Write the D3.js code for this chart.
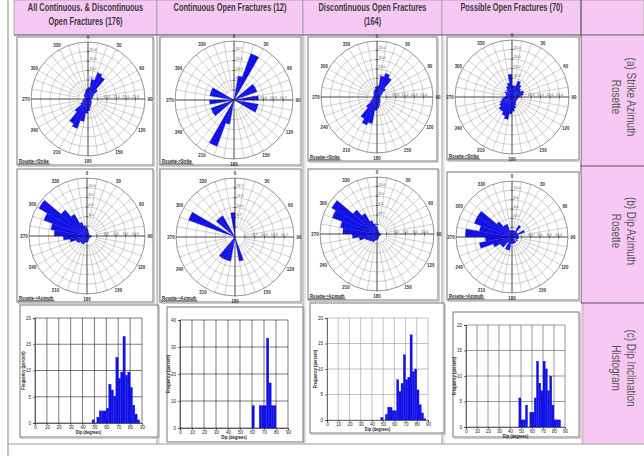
<!DOCTYPE html>
<html><head><meta charset="utf-8">
<script src="https://cdn.jsdelivr.net/npm/d3@7"></script>
<style>
body{margin:0;background:#fff;}
svg{display:block;}
text{font-family:"Liberation Sans",Arial,sans-serif;}
</style></head><body>
<svg id="c" width="644" height="458"></svg>
<script>
// ---------------- DATA ----------------
const columnTitles = [
  ["All Continuous. & Discontinuous", "Open Fractures (176)"],
  ["Continuous Open Fractures (12)"],
  ["Discontinuous Open Fractures", "(164)"],
  ["Possible Open Fractures (70)"]
];
const rowTitles = [
  ["(a) Strike Azimuth", "Rosette"],
  ["(b) Dip Azimuth", "Rosette"],
  ["(c) Dip Inclination", "Histogram"]
];
const azimuthBins = [0,10,20,30,40,50,60,70,80,90,100,110,120,130,140,150,160,170,
                     180,190,200,210,220,230,240,250,260,270,280,290,300,310,320,330,340,350];
const azimuthLabels = [0,30,60,90,120,150,180,210,240,270,300,330];

// strike azimuth rosettes (percent per 10 deg bin)
const strikeAll  = [6,10.5,14.7,13.5,6.6,3.6,3,2.4,2.1,1.5,1.5,1.8,2.4,2.4,3,3.6,4.5,6,
                    7.5,12,16.5,15,9,4.5,3,3,2.4,1.8,1.8,1.8,2.4,3,3,3.6,4.5,5.4];
const strikeCont = [0,8.3,16.7,0,0,8.3,8.3,0,8.3,0,8.3,8.3,0,0,0,0,0,0,
                    0,8.3,16.7,0,0,8.3,8.3,0,8.3,0,8.3,8.3,0,0,0,0,0,0];
const strikeDisc = [6,11.4,13.5,12,6,3.6,2.4,2.1,1.8,1.5,1.5,1.8,2.1,2.4,3,3.6,4.8,6,
                    7.2,14.4,15.9,13.5,7.5,4.2,3,2.4,2.1,1.8,1.5,1.8,2.1,2.4,3,3.6,4.2,5.4];
const strikePoss = [6,6,9,7.5,6,5.4,6.6,6,4.5,3.6,3,3,3,3,3.6,4.5,6,7.5,
                    9,12,10.5,9,9,7.5,6.6,5.4,4.5,3.6,3,3.6,4.5,3.6,4.5,6,7.5,12];
// dip azimuth rosettes (percent per 10 deg bin)
const dipAzAll   = [1.4,1.0,0.7,0.6,0.6,0.5,0.5,0.6,0.7,1.0,0.8,0.7,0.6,0.6,0.7,0.8,1.0,1.2,
                    1.2,1.4,1.8,1.8,1.8,2.2,2.4,3.6,4.9,6.8,7.6,9.5,11.5,7.0,5.2,3.0,2.2,1.8];
const dipAzCont  = [0,0,0,0,0,0,0,0,0,0,0,0,0,0,0,0,8.3,0,
                    0,8.3,8.3,8.3,0,0,0,0,0,0,0,16.7,0,8.3,8.3,0,0,8.3];
const dipAzDisc  = [1.2,0.9,0.6,0.6,0.6,0.5,0.5,0.6,0.7,0.9,0.8,0.7,0.6,0.6,0.7,0.8,1.0,1.2,
                    1.2,1.4,1.8,1.8,2.0,2.2,2.6,3.8,5.2,7.2,7.8,10.0,11.0,6.6,5.0,3.0,2.2,1.6];
const dipAzPoss  = [1.4,1.4,1.4,2.9,1.4,1.4,2.9,1.4,1.4,1.4,1.4,0,1.4,0,1.4,1.4,1.4,1.4,
                    1.4,2.9,2.9,1.4,2.9,2.9,4.3,7.1,5.7,10.0,7.1,8.6,8.6,4.3,2.9,2.9,1.4,1.4];

// dip inclination histograms (percent per 2 deg bin)
const dipBinStarts = [46,48,50,52,54,56,58,60,62,64,66,68,70,72,74,76,78,80,82,84,86,88];
const dipAll  = [0,0.6,0,1.1,2.3,2.3,2.3,2.8,7.4,6.3,5.1,12.5,8.5,9.7,16.5,9.1,9.7,6.8,3.4,1.7,0.6,0];
const dipCont = [0,0,0,0,0,0,0,8.3,0,0,8.3,8.3,8.3,33.3,16.7,8.3,8.3,0,0,0,0,0];
const dipDisc = [0,0.5,0,1.1,2.5,2.5,1.8,1.8,7.9,5.6,7.2,12.8,7.9,8.4,16.7,9.5,10.0,5.9,3.0,1.4,0.3,0];
const dipPoss = [0,5.7,1.4,1.4,4.3,0,2.9,2.9,5.7,12.9,8.6,7.1,12.9,11.4,7.1,10.0,4.3,1.4,1.4,1.4,0,0];
const dipTicks = [0,10,20,30,40,50,60,70,80,90];

// ---------------- LAYOUT ----------------
const svg = d3.select('#c');
const PINK = '#f8c8f4', BLUE = '#1212e6';
const colX = [14,157,303,442,581,644];
const rowY = [0,35,166,303,444];

// header cells
for (let i = 0; i < 5; i++) {
  svg.append('rect').attr('x', colX[i]).attr('y', 0)
    .attr('width', colX[i+1]-colX[i]).attr('height', rowY[1])
    .attr('fill', PINK).attr('stroke', '#999').attr('stroke-width', 0.8);
}
svg.append('rect').attr('x', colX[4]).attr('y', rowY[1]).attr('width', 70).attr('height', rowY[4]-rowY[1])
  .attr('fill', PINK);
columnTitles.forEach((lines, i) => {
  const cx = (colX[i]+colX[i+1])/2;
  lines.forEach((s, k) => {
    svg.append('text').attr('transform', `translate(${cx},${11 + k*14}) scale(0.74,1)`)
      .attr('text-anchor', 'middle')
      .attr('font-size', 10).attr('font-weight', 'bold').attr('fill', '#3a3a3a').text(s);
  });
});
// grid lines of the table
svg.append('line').attr('x1', 8).attr('x2', 8).attr('y1', 0).attr('y2', 456).attr('stroke', '#888');
svg.append('line').attr('x1', colX[0]).attr('x2', 644).attr('y1', rowY[1]).attr('y2', rowY[1]).attr('stroke', '#666');
[1,2,3].forEach(i => {
  svg.append('line').attr('x1', colX[i]).attr('x2', colX[i]).attr('y1', rowY[1]).attr('y2', rowY[4])
    .attr('stroke', '#999');
  svg.append('line').attr('x1', colX[i]+2).attr('x2', colX[i]+2).attr('y1', rowY[1]).attr('y2', rowY[4])
    .attr('stroke', '#ccc');
});
svg.append('line').attr('x1', colX[4]).attr('x2', colX[4]).attr('y1', 0).attr('y2', rowY[3]).attr('stroke', '#555');
svg.append('line').attr('x1', colX[4]+2).attr('x2', colX[4]+2).attr('y1', rowY[3]).attr('y2', rowY[4]).attr('stroke', '#bbb');
[2,3].forEach(j => svg.append('line').attr('x1', colX[4]).attr('x2', 644).attr('y1', rowY[j]).attr('y2', rowY[j]).attr('stroke', '#555'));
svg.append('line').attr('x1', 8).attr('x2', 644).attr('y1', rowY[4]).attr('y2', rowY[4]).attr('stroke', '#999');

// row titles
const rowCenters = [97, 231, 368];
rowTitles.forEach((lines, j) => {
  lines.forEach((s, k) => {
    svg.append('text').attr('transform', `translate(${627 - k*15},${rowCenters[j]}) rotate(90) scale(0.8,1)`)
      .attr('text-anchor', 'middle').attr('font-size', 12.5).attr('fill', '#555').text(s);
  });
});

// ---------------- ROSE ----------------
function drawRose(cfg) {
  const g = svg.append('g');
  const [x0, y0, x1, y1] = cfg.box;
  g.append('rect').attr('x', x0+1.5).attr('y', y0+1.5).attr('width', x1-x0).attr('height', y1-y0)
    .attr('fill', 'none').attr('stroke', '#ccc');
  g.append('rect').attr('x', x0).attr('y', y0).attr('width', x1-x0).attr('height', y1-y0)
    .attr('fill', '#fff').attr('stroke', '#777');
  const R = cfg.R;
  const r = d3.scaleLinear().domain([0, cfg.max]).range([0, R]);
  const c = g.append('g').attr('transform', `translate(${cfg.cx},${cfg.cy})`);
  const ringVals = [1,2,3,4,5,6].map(k => cfg.max*k/6);
  // spokes
  azimuthBins.forEach(a => {
    const t = a*Math.PI/180;
    c.append('line').attr('x1', r(ringVals[0])*Math.sin(t)).attr('y1', -r(ringVals[0])*Math.cos(t))
      .attr('x2', R*Math.sin(t)).attr('y2', -R*Math.cos(t))
      .attr('stroke', '#999').attr('stroke-width', 0.45);
  });
  ringVals.forEach((v, k) => {
    c.append('circle').attr('r', r(v)).attr('fill', 'none')
      .attr('stroke', k === 5 ? '#666' : '#999').attr('stroke-width', k === 5 ? 0.7 : 0.45);
  });
  // petals
  const arc = d3.arc().innerRadius(0);
  c.selectAll('path.p').data(cfg.values.map((v, i) => ({a: azimuthBins[i], v})).filter(d => d.v > 0))
    .join('path').attr('class', 'p')
    .attr('d', d => arc({outerRadius: r(d.v), startAngle: d.a*Math.PI/180, endAngle: (d.a+10)*Math.PI/180}))
    .attr('fill', BLUE).attr('stroke', BLUE).attr('stroke-width', 0.3);
  // main axes
  c.append('line').attr('x1', -R).attr('x2', R).attr('stroke', '#222').attr('stroke-width', 0.7);
  c.append('line').attr('y1', -R).attr('y2', R).attr('stroke', '#222').attr('stroke-width', 0.7);
  // small ticks on axes
  ringVals.slice(0, 5).forEach(v => {
    const d = r(v);
    c.append('line').attr('x1', d).attr('x2', d).attr('y1', -1.5).attr('y2', 1.5).attr('stroke', '#222').attr('stroke-width', 0.5);
    c.append('line').attr('y1', -d).attr('y2', -d).attr('x1', -1.5).attr('x2', 1.5).attr('stroke', '#222').attr('stroke-width', 0.5);
  });
  // ring labels
  const fmt = d3.format('.1f');
  ringVals.slice(1, 5).forEach(v => {
    c.append('text').attr('x', r(v)).attr('y', -1.5).attr('text-anchor', 'middle')
      .attr('font-size', 3.6).attr('fill', '#555').text(fmt(v));
    c.append('text').attr('x', 1.5).attr('y', -r(v) - 1).attr('text-anchor', 'start')
      .attr('font-size', 3.6).attr('fill', '#555').text(fmt(v));
  });
  // azimuth labels
  azimuthLabels.forEach(a => {
    const t = a*Math.PI/180, d = R + 5;
    c.append('text').attr('transform', `translate(${d*Math.sin(t)},${-d*Math.cos(t) + 1.8}) scale(0.8,1)`)
      .attr('text-anchor', 'middle').attr('font-size', 5.5).attr('font-weight', 'bold')
      .attr('fill', '#333').text(a);
  });
  // caption
  const tx = g.append('text').attr('transform', `translate(${x0 + 2},${y1 - 2.5}) scale(0.78,1)`)
    .attr('font-size', 5.2).attr('font-weight', 'bold').attr('fill', '#222').text(cfg.caption);
  const w = tx.node().getComputedTextLength() * 0.78;
  g.append('line').attr('x1', x0 + 1).attr('x2', x0 + 3 + w).attr('y1', y1 - 1.2).attr('y2', y1 - 1.2)
    .attr('stroke', '#222').attr('stroke-width', 0.8);
}

const roseCfgs = [
  {values: strikeAll,  max: 30, box: [17,37,153,165], cx: 88,  cy: 99,  R: 57, caption: 'Rosette->Strike'},
  {values: strikeCont, max: 20, box: [160,37,301,165], cx: 234, cy: 100, R: 59, caption: 'Rosette->Strike'},
  {values: strikeDisc, max: 30, box: [308,37,437,161], cx: 377, cy: 97,  R: 56, caption: 'Rosette->Strike'},
  {values: strikePoss, max: 30, box: [447,37,579,160], cx: 512, cy: 97,  R: 57, caption: 'Rosette->Strike'},
  {values: dipAzAll,   max: 12, box: [17,169,153,302], cx: 87,  cy: 236, R: 58, caption: 'Rosette->Azimuth'},
  {values: dipAzCont,  max: 20, box: [160,169,301,302], cx: 235, cy: 237, R: 59, caption: 'Rosette->Azimuth'},
  {values: dipAzDisc,  max: 12, box: [308,169,438,300], cx: 377, cy: 234, R: 57, caption: 'Rosette->Azimuth'},
  {values: dipAzPoss,  max: 12, box: [447,172,579,300], cx: 512, cy: 237, R: 56, caption: 'Rosette->Azimuth'}
];
roseCfgs.forEach(drawRose);

// ---------------- HISTOGRAMS ----------------
function drawHist(cfg) {
  const g = svg.append('g');
  const [x0, y0, x1, y1] = cfg.box;
  g.append('rect').attr('x', x0+1.5).attr('y', y0+1.5).attr('width', x1-x0).attr('height', y1-y0)
    .attr('fill', 'none').attr('stroke', '#ccc');
  g.append('rect').attr('x', x0).attr('y', y0).attr('width', x1-x0).attr('height', y1-y0)
    .attr('fill', '#fff').attr('stroke', '#777');
  const x = d3.scaleLinear().domain([0, 90]).range([cfg.px0, cfg.px1]);
  const y = d3.scaleLinear().domain([0, cfg.ymax]).range([cfg.py0, cfg.py1]);
  // grid
  dipTicks.forEach(t => g.append('line').attr('x1', x(t)).attr('x2', x(t)).attr('y1', y(0)).attr('y2', y(cfg.ymax))
    .attr('stroke', cfg.grid).attr('stroke-width', 0.6));
  cfg.yTicks.forEach(t => g.append('line').attr('x1', x(0)).attr('x2', x(90)).attr('y1', y(t)).attr('y2', y(t))
    .attr('stroke', cfg.grid).attr('stroke-width', 0.6));
  // bars
  g.selectAll('rect.b').data(cfg.values.map((v, i) => ({s: dipBinStarts[i], v})).filter(d => d.v > 0))
    .join('rect').attr('class', 'b')
    .attr('x', d => x(d.s)).attr('width', d => x(d.s + 2) - x(d.s))
    .attr('y', d => y(d.v)).attr('height', d => y(0) - y(d.v))
    .attr('fill', BLUE).attr('stroke', BLUE).attr('stroke-width', 0.3);
  // axes
  const ax = g.append('g').attr('transform', `translate(0,${y(0)})`)
    .call(d3.axisBottom(x).tickValues(dipTicks).tickSize(2).tickPadding(1));
  const ay = g.append('g').attr('transform', `translate(${x(0)},0)`)
    .call(d3.axisLeft(y).tickValues(cfg.yTicks).tickSize(2).tickPadding(2));
  [ax, ay].forEach(a => {
    a.selectAll('text').attr('font-size', 4.5).attr('fill', '#222');
    a.selectAll('line,path').attr('stroke', '#222').attr('stroke-width', 0.6);
  });
  g.append('text').attr('transform', `translate(${(x(0)+x(90))/2},${y(0) + 11}) scale(0.8,1)`).attr('text-anchor', 'middle')
    .attr('font-size', 5).attr('font-weight', 'bold').attr('fill', '#222').text('Dip (degrees)');
  g.append('text').attr('transform', `translate(${x(0) - 10},${(y(0)+y(cfg.ymax))/2}) rotate(-90) scale(0.8,1)`)
    .attr('text-anchor', 'middle').attr('font-size', 5).attr('font-weight', 'bold').attr('fill', '#222')
    .text('Frequency (percent)');
}
const histCfgs = [
  {values: dipAll,  ymax: 20, yTicks: [0,5,10,15,20], box: [20,305,158,437], px0: 35,  px1: 142, py0: 423, py1: 318, grid: '#222'},
  {values: dipCont, ymax: 40, yTicks: [0,10,20,30,40], box: [167,307,303,442], px0: 180, px1: 288, py0: 428, py1: 320, grid: '#222'},
  {values: dipDisc, ymax: 20, yTicks: [0,5,10,15,20], box: [310,303,444,433], px0: 327, px1: 428, py0: 420, py1: 318, grid: '#999'},
  {values: dipPoss, ymax: 20, yTicks: [0,5,10,15,20], box: [453,312,579,437], px0: 466, px1: 565, py0: 427, py1: 325, grid: '#555'}
];
histCfgs.forEach(drawHist);
</script></body></html>
